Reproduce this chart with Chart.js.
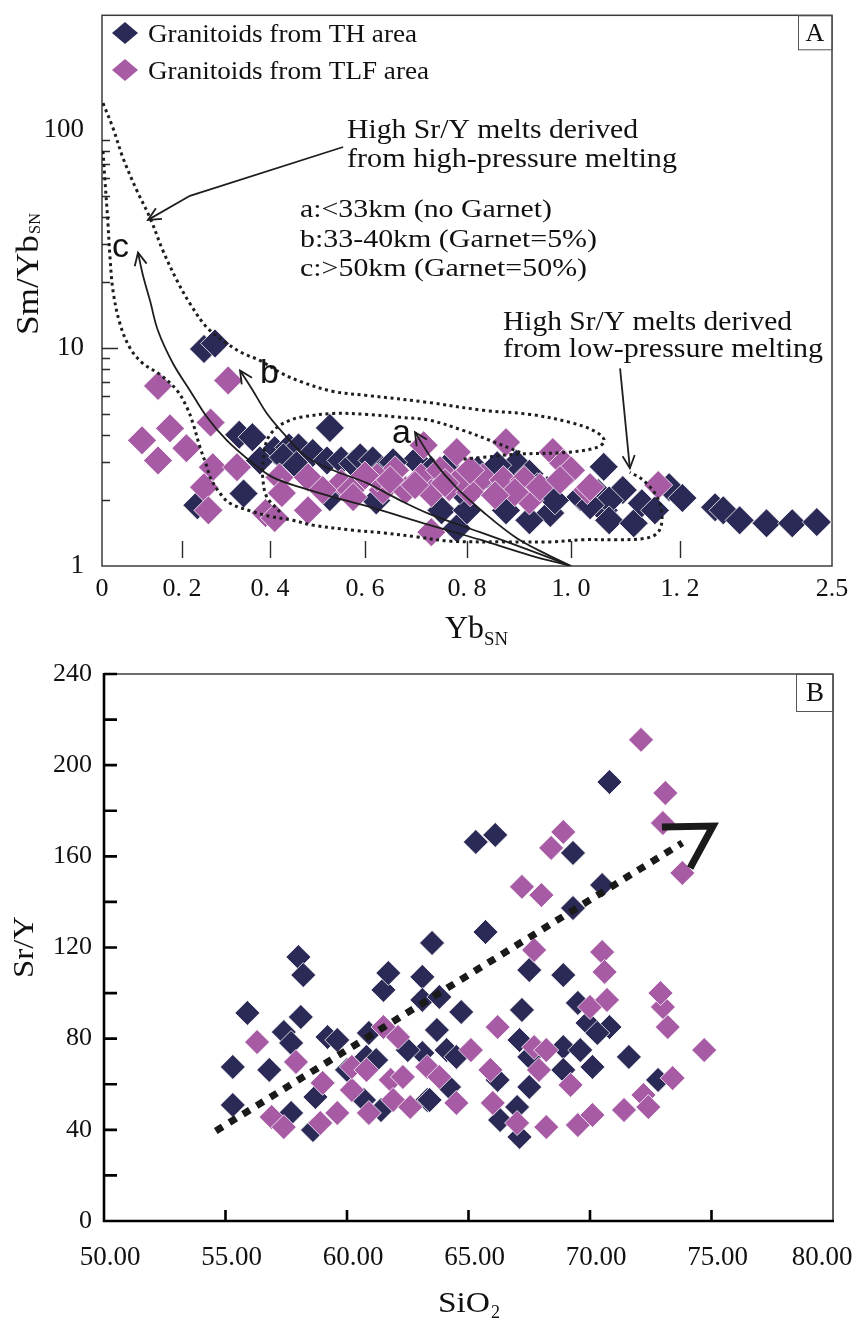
<!DOCTYPE html>
<html>
<head>
<meta charset="utf-8">
<script src="https://cdn.jsdelivr.net/npm/chart.js@4.4.1/dist/chart.umd.min.js"></script>
<style>
  html, body { margin: 0; padding: 0; background: #fff; }
  #wrap { position: relative; width: 856px; height: 1319px; }
  canvas { position: absolute; left: 0; }
  #panelA { top: 0; }
  #panelB { top: 660px; }
</style>
</head>
<body>
<div id="wrap">
  <canvas id="panelA" width="856" height="660"></canvas>
  <canvas id="panelB" width="856" height="659"></canvas>
</div>
<script>
// ---------- Panel A: Sm/Yb(SN) vs Yb(SN) ----------
const ybTickValues = [0, 0.2, 0.4, 0.6, 0.8, 1.0, 1.2, 2.5];
const ybTickLabels = ['0', '0. 2', '0. 4', '0. 6', '0. 8', '1. 0', '1. 2', '2.5'];
const smYbTickValues = [1, 10, 100];
const smYbMinorTicks = [2, 3, 4, 5, 6, 7, 8, 9, 20, 30, 40, 50, 60, 70, 80, 90];

const thYb   = [0.25, 0.275, 0.526, 0.33, 0.36, 0.41, 0.44, 0.46, 0.49, 0.52, 0.55, 0.575, 0.34, 0.235, 0.59, 0.615, 0.635, 0.70, 0.73, 0.76, 0.82, 0.845, 0.895, 0.92, 0.935, 0.96, 0.92, 0.78, 0.75, 0.80, 0.875, 1.06, 1.05, 1.06, 1.095, 1.07, 1.07, 1.115, 1.13, 1.18, 1.22, 1.50, 1.57, 1.71, 1.94, 2.16, 2.37, 1.017, 1.035, 1.154, 0.377, 0.649, 0.708, 0.786, 0.863, 0.954, 0.988, 0.526, 0.622, 0.428, 0.456, 0.655, 0.858, 0.969];
const thSmYb = [9.9, 10.5, 4.3, 4.0, 3.9, 3.4, 3.5, 3.5, 3.3, 3.05, 3.05, 2.95, 2.15, 1.9, 3.15, 3.05, 2.75, 3.05, 2.75, 2.85, 2.75, 2.65, 2.95, 2.65, 2.3, 1.75, 1.62, 1.49, 1.8, 1.8, 1.8, 2.85, 2.16, 1.8, 2.23, 2.0, 1.62, 1.57, 1.94, 2.3, 2.05, 1.86, 1.8, 1.62, 1.57, 1.57, 1.59, 2.07, 1.9, 1.8, 3.05, 2.5, 2.42, 2.23, 2.3, 2.23, 2.6, 2.07, 2.0, 3.15, 2.9, 2.99, 2.9, 2.0];

const tlfYb   = [0.14, 0.305, 0.265, 0.10, 0.17, 0.14, 0.21, 0.27, 0.325, 0.25, 0.26, 0.42, 0.425, 0.48, 0.55, 0.39, 0.41, 0.48, 0.715, 0.78, 0.875, 0.965, 0.57, 0.635, 0.68, 0.71, 0.73, 0.765, 0.83, 0.87, 0.91, 0.92, 0.985, 1.0, 1.03, 0.73, 0.575, 1.035, 1.16, 0.659, 0.747, 0.806, 0.892, 0.624, 0.79, 0.511, 0.649, 0.698, 0.757, 0.806, 0.854, 0.94, 0.979, 0.60];
const tlfSmYb = [6.7, 7.1, 4.55, 3.77, 4.28, 3.05, 3.47, 2.84, 2.84, 2.3, 1.8, 2.55, 2.16, 2.55, 2.4, 1.75, 1.66, 1.8, 3.58, 3.33, 3.7, 3.33, 2.23, 2.23, 2.23, 2.55, 2.16, 2.3, 2.55, 2.48, 2.48, 2.0, 2.96, 2.75, 2.23, 1.43, 2.07, 2.3, 2.35, 2.75, 2.75, 2.18, 2.18, 2.55, 2.55, 2.23, 2.48, 2.35, 2.4, 2.75, 2.11, 2.3, 2.48, 2.6];

// field boundaries (dotted)
const hpFieldYb   = [0.0025, 0.0275, 0.0525, 0.0875, 0.12, 0.1525, 0.1875, 0.218, 0.257, 0.302, 0.339, 0.377, 0.421, 0.463, 0.533, 0.604, 0.724, 0.831, 0.921, 0.998, 1.044, 1.061, 1.048, 0.992, 0.896, 0.831, 0.792];
const hpFieldSmYb = [132.9, 102.1, 74.4, 52.6, 39.6, 27.9, 20.4, 16.0, 12.4, 10.5, 9.44, 8.77, 7.73, 7.03, 6.32, 6.06, 5.63, 5.18, 4.96, 4.56, 4.15, 3.77, 3.50, 3.32, 3.26, 3.15, 3.09];
const lpFieldYb   = [0.0025, 0.0075, 0.015, 0.02, 0.0275, 0.045, 0.07, 0.1025, 0.145, 0.1875, 0.211, 0.225, 0.241, 0.257, 0.264, 0.286, 0.309, 0.355, 0.40, 0.448, 0.49, 0.575, 0.635, 0.702, 0.767, 0.877, 0.96, 1.022, 1.084, 1.136, 1.16, 1.167, 1.158, 1.132, 1.108];
const lpFieldSmYb = [80.1, 58.4, 37.1, 26.0, 18.3, 12.9, 10.0, 8.49, 7.56, 6.39, 5.34, 4.51, 3.50, 2.84, 2.55, 2.16, 1.94, 1.79, 1.69, 1.62, 1.54, 1.46, 1.42, 1.36, 1.30, 1.29, 1.29, 1.32, 1.32, 1.34, 1.43, 1.68, 2.07, 2.48, 2.69];
const aFieldYb   = [0.421, 0.393, 0.384, 0.384, 0.393, 0.415, 0.442, 0.463, 0.533, 0.604, 0.669, 0.727, 0.792, 0.844, 0.902];
const aFieldSmYb = [1.77, 2.07, 2.48, 2.96, 3.77, 4.33, 4.66, 4.81, 5.01, 4.96, 4.81, 4.66, 4.19, 3.77, 3.32];

// melting trends a, b, c (arrow tip first, ending at Yb = 1, Sm/Yb = 1)
const trendAYb   = [0.698, 0.733, 0.780, 0.831, 0.896, 0.960, 1.0];
const trendASmYb = [4.11, 3.06, 2.28, 1.77, 1.34, 1.11, 1.0];
const trendBYb   = [0.332, 0.361, 0.393, 0.436, 0.478, 0.533, 0.604, 0.669, 0.727, 0.825, 0.921, 1.0];
const trendBSmYb = [7.89, 6.39, 5.01, 3.89, 3.15, 2.75, 2.40, 2.00, 1.73, 1.43, 1.18, 1.0];
const trendCYb   = [0.09, 0.1025, 0.12, 0.14, 0.1775, 0.218, 0.257, 0.302, 0.361, 0.406, 0.463, 0.533, 0.604, 0.727, 0.825, 0.921, 1.0];
const trendCSmYb = [27.4, 21.5, 16.5, 12.0, 8.49, 6.39, 4.81, 3.77, 2.96, 2.55, 2.30, 2.07, 1.88, 1.54, 1.32, 1.12, 1.0];

// label pointers (tip first)
const hpPointerYb   = [0.115, 0.218, 0.554];
const hpPointerSmYb = [38.7, 49.9, 83.6];
const lpPointerYb   = [1.108, 1.09];
const lpPointerSmYb = [2.81, 8.06];

// ---------- Panel B: Sr/Y vs SiO2 ----------
const sio2TickValues = [50, 55, 60, 65, 70, 75, 80];
const srYTickValues = [0, 40, 80, 120, 160, 200, 240];
const srYMinorTicks = [20, 60, 100, 140, 180, 220];

const thSiO2 = [55.9, 55.3, 55.3, 56.8, 57.4, 57.7, 58.1, 58.0, 58.2, 59.2, 59.6, 58.7, 58.6, 57.7, 60.9, 60.8, 61.2, 60.0, 60.7, 61.5, 61.7, 63.1, 63.1, 63.1, 63.3, 61.4, 63.5, 63.7, 64.1, 64.5, 64.2, 63.4, 63.8, 64.7, 65.3, 66.1, 65.7, 66.2, 66.3, 67.0, 67.2, 67.1, 67.5, 67.5, 67.1, 67.5, 68.9, 69.3, 69.3, 69.5, 69.9, 68.9, 69.6, 68.9, 70.1, 70.8, 70.3, 70.5, 70.8, 71.6, 72.8, 62.5];
const thSrY  = [91.3, 67.6, 50.9, 66.3, 82.9, 78.1, 89.5, 115.8, 107.9, 80.7, 79.4, 54.4, 39.9, 47.4, 82.5, 72.0, 70.6, 66.3, 53.1, 101.4, 108.8, 107.1, 97.0, 73.7, 53.1, 48.7, 122.0, 83.8, 75.0, 72.0, 58.8, 53.1, 98.3, 91.7, 166.3, 169.4, 126.8, 61.9, 44.3, 50.0, 92.6, 79.4, 72.0, 58.8, 36.9, 110.1, 107.9, 161.5, 137.3, 95.7, 86.9, 76.3, 75.0, 66.3, 67.6, 85.1, 82.5, 147.4, 192.6, 72.0, 61.9, 75.0];

const tlfSiO2 = [56.3, 57.9, 56.9, 57.4, 59.0, 58.9, 59.6, 60.2, 60.2, 60.8, 60.9, 61.5, 62.1, 61.8, 61.9, 62.6, 62.3, 63.3, 65.1, 64.5, 63.8, 65.9, 66.2, 66.0, 67.0, 67.7, 68.2, 67.9, 69.2, 68.2, 69.5, 70.1, 71.4, 72.2, 72.4, 73.4, 74.7, 73.2, 73.0, 72.9, 70.0, 70.7, 72.1, 73.1, 73.0, 73.8, 68.9, 68.4, 67.2, 68.0, 67.7, 70.5, 70.6];
const tlfSrY  = [78.5, 69.8, 45.6, 41.2, 60.6, 43.0, 47.4, 57.5, 67.6, 66.3, 47.4, 85.1, 80.7, 61.9, 53.1, 50.0, 63.2, 67.6, 75.0, 51.8, 63.2, 66.3, 85.1, 51.8, 43.0, 76.3, 75.0, 66.3, 59.7, 41.2, 42.1, 46.5, 48.7, 55.3, 50.0, 62.7, 75.0, 85.1, 93.9, 100.0, 93.9, 97.0, 211.1, 187.8, 174.6, 152.7, 170.7, 163.7, 146.6, 143.0, 118.9, 118.0, 109.3];

// evolution trend with its arrowhead
const trendSiO2 = [54.6, 73.8];
const trendSrY  = [39.5, 165.9];
const headSiO2  = [72.96, 75.06, 74.12];
const headSrY   = [172.9, 173.3, 154.9];

// ---------- shared styling ----------
const NAVY = '#2b2955';
const PINK = '#a75ba4';
const INK = '#1e1e1e';
const SERIF = "'Liberation Serif', 'Times New Roman', serif";
const SANS = "'Liberation Sans', Arial, sans-serif";

const zip = (xs, ys) => xs.map((x, i) => ({ x, y: ys[i] }));

// Linear axis whose tick values sit at chosen fractions of the axis length,
// interpolated linearly between neighbouring ticks.
const YB_TICK_FRACTIONS = [0, 0.1096, 0.2301, 0.3603, 0.5, 0.6425, 0.7918, 1];
class SegmentedLinearScale extends Chart.LinearScale {
  _fraction(v) {
    const b = ybTickValues, f = YB_TICK_FRACTIONS;
    let i = 1;
    while (i < b.length - 1 && v > b[i]) i++;
    return f[i - 1] + (v - b[i - 1]) / (b[i] - b[i - 1]) * (f[i] - f[i - 1]);
  }
  getPixelForValue(v) {
    if (v === null || v === undefined || isNaN(v)) return NaN;
    return this.getPixelForDecimal(this._fraction(v));
  }
  getValueForPixel(px) {
    const d = this.getDecimalForPixel(px);
    const b = ybTickValues, f = YB_TICK_FRACTIONS;
    let i = 1;
    while (i < f.length - 1 && d > f[i]) i++;
    return b[i - 1] + (d - f[i - 1]) / (f[i] - f[i - 1]) * (b[i] - b[i - 1]);
  }
}
SegmentedLinearScale.id = 'segmentedLinear';
SegmentedLinearScale.defaults = Chart.LinearScale.defaults;
Chart.register(SegmentedLinearScale);

function fitText(ctx, str, x, y, size, width, family) {
  ctx.font = size + 'px ' + (family || SERIF);
  const w = ctx.measureText(str).width;
  ctx.save();
  ctx.translate(x, y);
  ctx.scale(width ? width / w : 1, 1);
  ctx.fillText(str, 0, 0);
  ctx.restore();
}

function diamond(ctx, x, y, rx, ry, color) {
  ctx.beginPath();
  ctx.moveTo(x - rx, y); ctx.lineTo(x, y - ry); ctx.lineTo(x + rx, y); ctx.lineTo(x, y + ry);
  ctx.closePath();
  ctx.fillStyle = color;
  ctx.fill();
}

function drawArrowheads(chart, len, spread, width) {
  const ctx = chart.ctx;
  chart.data.datasets.forEach((ds, i) => {
    if (!ds.arrow) return;
    const pts = chart.getDatasetMeta(i).data;
    const tip = pts[0], prev = pts[1];
    const ang = Math.atan2(tip.y - prev.y, tip.x - prev.x);
    ctx.save();
    ctx.strokeStyle = INK;
    ctx.lineWidth = width;
    ctx.beginPath();
    ctx.moveTo(tip.x - len * Math.cos(ang - spread), tip.y - len * Math.sin(ang - spread));
    ctx.lineTo(tip.x, tip.y);
    ctx.lineTo(tip.x - len * Math.cos(ang + spread), tip.y - len * Math.sin(ang + spread));
    ctx.stroke();
    ctx.restore();
  });
}

function pointSet(label, xs, ys, color, radius) {
  return {
    label, data: zip(xs, ys),
    pointStyle: 'rectRot', pointRadius: radius, pointHoverRadius: radius,
    backgroundColor: color, borderColor: '#ffffff', borderWidth: 0.8
  };
}

function curve(xs, ys, opts) {
  return Object.assign({
    data: zip(xs, ys), showLine: true, pointRadius: 0, pointHoverRadius: 0,
    borderColor: INK, borderWidth: 1.8, tension: 0.35, fill: false
  }, opts);
}

const dotted = { borderDash: [3, 3.6], borderWidth: 3, borderCapStyle: 'butt' };

// ---------- Panel A decorations ----------
const panelADecor = {
  id: 'panelADecor',
  beforeDatasetsDraw(chart) {
    const { ctx, chartArea: a, scales } = chart;
    ctx.save();
    ctx.strokeStyle = '#3c3c3c';
    ctx.lineWidth = 1.5;
    ctx.strokeRect(a.left, a.top, a.right - a.left, a.bottom - a.top);
    // inner ticks on the log axis
    ctx.strokeStyle = '#2a2a2a';
    ctx.lineWidth = 1.4;
    ctx.beginPath();
    smYbMinorTicks.forEach(v => {
      const y = Math.round(scales.y.getPixelForValue(v)) + 0.5;
      ctx.moveTo(a.left, y); ctx.lineTo(a.left + 8, y);
    });
    const y10 = Math.round(scales.y.getPixelForValue(10)) + 0.5;
    ctx.moveTo(a.left, y10); ctx.lineTo(a.left + 16, y10);
    // floating ticks above the Yb axis
    ybTickValues.slice(1, -1).forEach(v => {
      const x = Math.round(scales.x.getPixelForValue(v)) + 0.5;
      ctx.moveTo(x, a.bottom - 25); ctx.lineTo(x, a.bottom - 8);
    });
    ctx.stroke();
    ctx.restore();
  },
  afterDatasetsDraw(chart) {
    const { ctx, chartArea: a } = chart;
    drawArrowheads(chart, 14, 0.45, 1.8);
    ctx.save();
    ctx.fillStyle = '#111';
    ctx.textBaseline = 'alphabetic';
    // legend
    diamond(ctx, 125, 33, 13, 11, NAVY);
    diamond(ctx, 125, 70, 13, 11, PINK);
    ctx.fillStyle = '#111';
    fitText(ctx, 'Granitoids from TH area', 148, 42, 25, 269);
    fitText(ctx, 'Granitoids from TLF area', 148, 79, 25, 281);
    // field labels
    fitText(ctx, 'High Sr/Y melts derived', 347, 138, 27, 291);
    fitText(ctx, 'from high-pressure melting', 347, 167, 27, 330);
    fitText(ctx, 'a:<33km (no Garnet)', 300, 217, 26, 252);
    fitText(ctx, 'b:33-40km (Garnet=5%)', 300, 247, 26, 297);
    fitText(ctx, 'c:>50km (Garnet=50%)', 300, 276, 26, 287);
    fitText(ctx, 'High Sr/Y melts derived', 503, 330, 27, 289);
    fitText(ctx, 'from low-pressure melting', 503, 357, 27, 320);
    fitText(ctx, 'c', 112, 257, 34, 0, SANS);
    fitText(ctx, 'b', 260, 383, 34, 0, SANS);
    fitText(ctx, 'a', 392, 443, 34, 0, SANS);
    // panel tag
    ctx.strokeStyle = '#555';
    ctx.lineWidth = 1;
    ctx.strokeRect(a.right - 34 + 0.5, a.top + 0.5, 34, 34);
    ctx.textAlign = 'center';
    ctx.textBaseline = 'middle';
    ctx.font = '26px ' + SERIF;
    ctx.fillText('A', a.right - 17, a.top + 19);
    ctx.textAlign = 'left';
    ctx.textBaseline = 'alphabetic';
    // axis titles
    fitText(ctx, 'Yb', 445, 638, 32, 39);
    fitText(ctx, 'SN', 484, 645, 19, 24);
    ctx.save();
    ctx.translate(38, 335);
    ctx.rotate(-Math.PI / 2);
    fitText(ctx, 'Sm/Yb', 0, 0, 32, 100);
    fitText(ctx, 'SN', 101, 2, 16, 21);
    ctx.restore();
    ctx.restore();
  }
};

new Chart(document.getElementById('panelA'), {
  type: 'scatter',
  data: {
    datasets: [
      curve(hpPointerYb, hpPointerSmYb, { arrow: true, tension: 0, borderWidth: 1.8 }),
      curve(lpPointerYb, lpPointerSmYb, { arrow: true, tension: 0, borderWidth: 1.8 }),
      curve(trendAYb, trendASmYb, { arrow: true }),
      curve(trendBYb, trendBSmYb, { arrow: true }),
      curve(trendCYb, trendCSmYb, { arrow: true }),
      curve(hpFieldYb, hpFieldSmYb, dotted),
      curve(lpFieldYb, lpFieldSmYb, dotted),
      curve(aFieldYb, aFieldSmYb, dotted),
      pointSet('Granitoids from TLF area', tlfYb, tlfSmYb, PINK, 14.5),
      pointSet('Granitoids from TH area', thYb, thSmYb, NAVY, 14.5)
    ]
  },
  options: {
    responsive: false, animation: false, events: [],
    layout: { padding: { top: 14, right: 24, left: 0, bottom: 0 } },
    plugins: { legend: { display: false }, tooltip: { enabled: false } },
    scales: {
      x: {
        type: 'segmentedLinear', min: 0, max: 2.5,
        afterBuildTicks: s => { s.ticks = ybTickValues.map(v => ({ value: v })); },
        afterFit: s => { s.height = 94; s.paddingLeft = 0; s.paddingRight = 0; },
        grid: { display: false, drawTicks: false },
        border: { display: false },
        ticks: {
          autoSkip: false, maxRotation: 0, minRotation: 0, padding: 8,
          color: '#111', font: { family: SERIF, size: 26 },
          callback: (v, i) => ybTickLabels[i]
        }
      },
      y: {
        type: 'logarithmic', min: 1, max: 336,
        afterBuildTicks: s => { s.ticks = smYbTickValues.map(v => ({ value: v })); },
        afterFit: s => { s.width = 102; s.paddingTop = 0; s.paddingBottom = 0; },
        grid: { display: false, drawTicks: false },
        border: { display: false },
        ticks: {
          autoSkip: false, padding: 18,
          color: '#111', font: { family: SERIF, size: 27 },
          callback: v => String(v)
        }
      }
    }
  },
  plugins: [panelADecor]
});

// ---------- Panel B decorations ----------
const panelBDecor = {
  id: 'panelBDecor',
  beforeDatasetsDraw(chart) {
    const { ctx, chartArea: a, scales } = chart;
    ctx.save();
    ctx.strokeStyle = '#3c3c3c';
    ctx.lineWidth = 1.6;
    ctx.beginPath();
    ctx.moveTo(a.left, a.top); ctx.lineTo(a.right, a.top); ctx.lineTo(a.right, a.bottom);
    ctx.stroke();
    ctx.strokeStyle = '#000';
    ctx.lineWidth = 2.6;
    ctx.beginPath();
    ctx.moveTo(a.left, a.top - 1); ctx.lineTo(a.left, a.bottom); ctx.lineTo(a.right + 1, a.bottom);
    srYTickValues.concat(srYMinorTicks).forEach(v => {
      const y = scales.y.getPixelForValue(v);
      ctx.moveTo(a.left, y); ctx.lineTo(a.left + 13, y);
    });
    sio2TickValues.slice(1, -1).forEach(v => {
      const x = scales.x.getPixelForValue(v);
      ctx.moveTo(x, a.bottom); ctx.lineTo(x, a.bottom - 11);
    });
    ctx.stroke();
    ctx.restore();
  },
  afterDatasetsDraw(chart) {
    const { ctx, chartArea: a } = chart;
    ctx.save();
    ctx.strokeStyle = '#555';
    ctx.lineWidth = 1;
    ctx.strokeRect(a.right - 37 + 0.5, a.top + 0.5, 37, 37);
    ctx.fillStyle = '#111';
    ctx.textAlign = 'center';
    ctx.textBaseline = 'middle';
    ctx.font = '27px ' + SERIF;
    ctx.fillText('B', a.right - 18, a.top + 20);
    ctx.textAlign = 'left';
    ctx.textBaseline = 'alphabetic';
    fitText(ctx, 'SiO', 438, 652, 30, 52);
    fitText(ctx, '2', 491, 658, 18, 0);
    ctx.save();
    ctx.translate(33, 318);
    ctx.rotate(-Math.PI / 2);
    fitText(ctx, 'Sr/Y', 0, 0, 30, 62);
    ctx.restore();
    ctx.restore();
  }
};

new Chart(document.getElementById('panelB'), {
  type: 'scatter',
  data: {
    datasets: [
      curve(headSiO2, headSrY, { tension: 0, borderWidth: 7, borderJoinStyle: 'miter', borderColor: '#1a1a1a' }),
      curve(trendSiO2, trendSrY, { tension: 0, borderWidth: 7, borderDash: [8, 8], borderCapStyle: 'butt', borderColor: '#1a1a1a' }),
      pointSet('Granitoids from TLF area', tlfSiO2, tlfSrY, PINK, 12.5),
      pointSet('Granitoids from TH area', thSiO2, thSrY, NAVY, 12.5)
    ]
  },
  options: {
    responsive: false, animation: false, events: [],
    layout: { padding: { top: 14, right: 23, left: 0, bottom: 0 } },
    plugins: { legend: { display: false }, tooltip: { enabled: false } },
    scales: {
      x: {
        type: 'linear', min: 50, max: 80,
        afterBuildTicks: s => { s.ticks = sio2TickValues.map(v => ({ value: v })); },
        afterFit: s => { s.height = 98; s.paddingLeft = 0; s.paddingRight = 0; },
        grid: { display: false, drawTicks: false },
        border: { display: false },
        ticks: {
          autoSkip: false, maxRotation: 0, minRotation: 0, padding: 21, labelOffset: 6,
          color: '#111', font: { family: SERIF, size: 27 },
          callback: (v, i, t) => v.toFixed(2) + (i === t.length - 1 ? '     ' : '')
        }
      },
      y: {
        type: 'linear', min: 0, max: 240,
        afterBuildTicks: s => { s.ticks = srYTickValues.map(v => ({ value: v })); },
        afterFit: s => { s.width = 104; s.paddingTop = 0; s.paddingBottom = 0; },
        grid: { display: false, drawTicks: false },
        border: { display: false },
        ticks: {
          autoSkip: false, padding: 12,
          color: '#111', font: { family: SERIF, size: 26 },
          callback: v => String(v)
        }
      }
    }
  },
  plugins: [panelBDecor]
});
</script>
</body>
</html>
